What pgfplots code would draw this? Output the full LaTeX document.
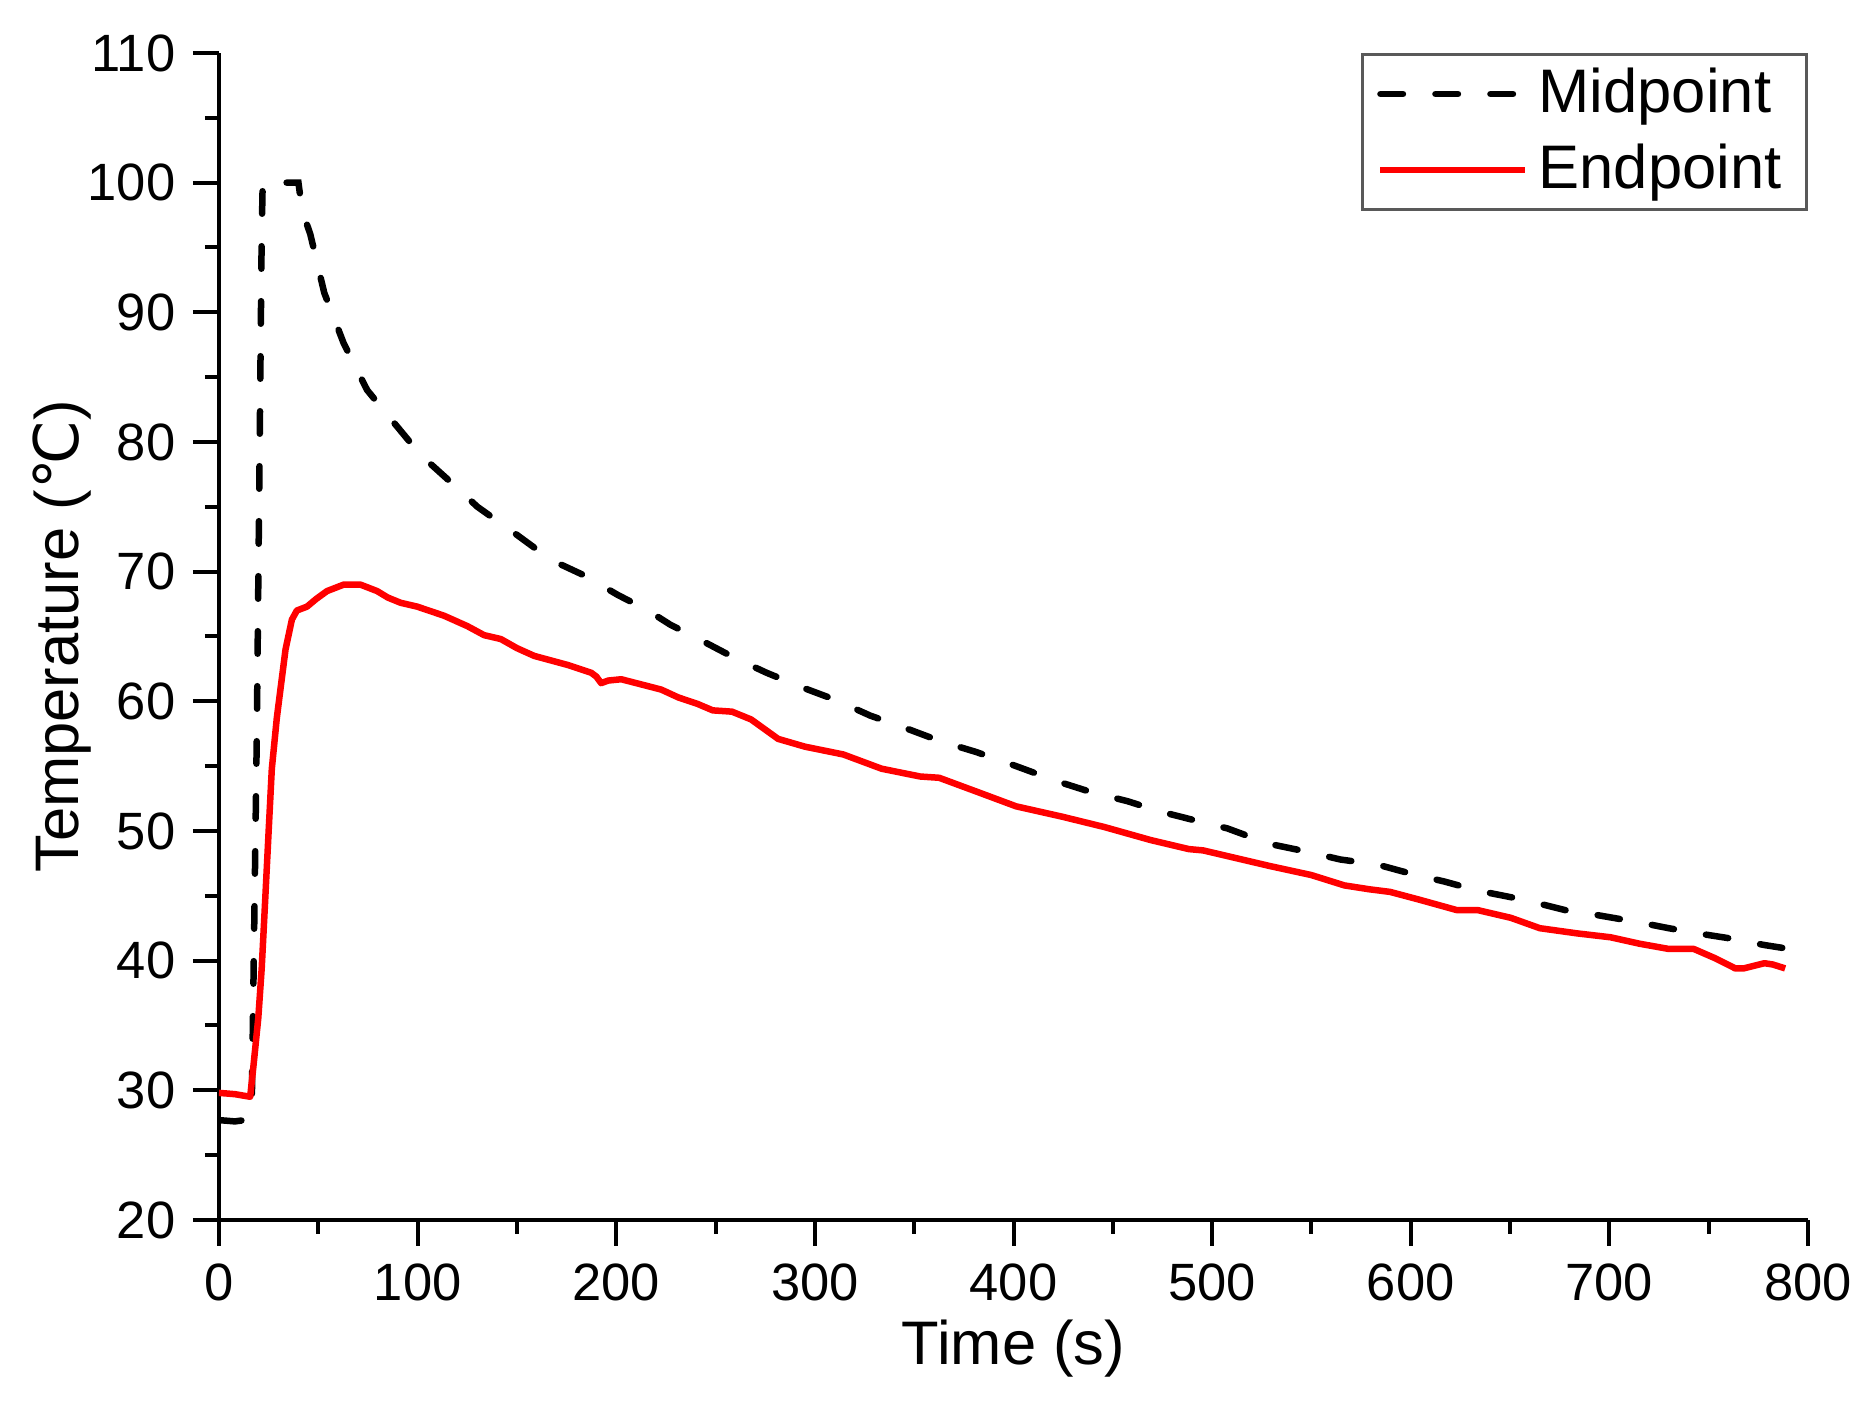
\documentclass[border=0pt]{standalone}
\usepackage{fontspec}
\setmainfont{Liberation Sans}
\newfontfamily\dejavu{DejaVu Sans}
\usepackage{pgfplots}
\pgfplotsset{compat=1.18}

\newcommand\tickfont{\fontsize{10.5}{12}\selectfont}
\newcommand\labfont{\fontsize{12.3}{14}\selectfont}

\begin{document}
\begin{tikzpicture}
\begin{axis}[
  scale only axis, width=317.8pt, height=233.4pt,
  xmin=0, xmax=800, ymin=20, ymax=110,
  xtick={0,100,...,800}, ytick={20,30,...,110},
  minor x tick num=1, minor y tick num=1,
  axis x line*=bottom, axis y line*=left,
  axis line style={-, line width=0.8pt},
  tick align=outside, major tick length=5.2pt, minor tick length=2.8pt,
  tick style={black, line width=0.8pt},
  /pgf/number format/assume math mode=true,
  tick label style={font=\tickfont},
  xlabel={Time (s)},
  ylabel={Temperature ({\dejavu ℃})},
  label style={font=\labfont},
  xlabel style={at={(axis description cs:0.5,-0.1243)}, anchor=base},
  ylabel style={at={(axis description cs:-0.0887,0.5)}, anchor=base, rotate=0},
  legend style={at={(rel axis cs:1,1)}, anchor=north east, draw=black!65,
    line width=0.6pt, font=\labfont, cells={anchor=west},
    nodes={inner ysep=1.2pt}, row sep=2.4pt, inner ysep=1.5pt},
  legend image code/.code={\draw[#1] (0pt,0pt) -- (29pt,0pt);},
]
\addplot[black, line width=1.3pt, line cap=round, dash pattern=on 4.5pt off 6.5pt] coordinates {
(0,27.7) (8,27.6) (13,27.7) (15.5,28.0) (16.5,28.8) (17.5,40) (19,57) (20.5,80) (21.5,96) (22,100)
(40,100) (41.8,97.9) (46,96.0) (53,91.5) (62.8,87.6) (74.6,84.0) (88,81.5) (101.5,79.0)
(116.7,76.9) (130.1,75.0) (150.3,72.8) (167.2,70.9) (184,69.7) (200.8,68.2) (216,67.0)
(227.3,65.9) (242.8,64.7) (260.2,63.3) (275.7,62.2) (293.1,61.1) (310.5,60.1) (327.8,58.9)
(346.2,57.9) (363.6,56.9) (381,56.1) (401.3,55.0) (422.6,53.8) (439,53.0) (457.3,52.3)
(473.8,51.5) (489.2,50.9) (507.6,50.2) (528.9,49.0) (547.8,48.4) (564.5,47.8) (583.4,47.4)
(600.2,46.7) (616.9,46.1) (633.7,45.4) (656.7,44.7) (677.6,43.9) (694.3,43.5) (713.2,43.0)
(729.9,42.5) (744.6,42.1) (761.3,41.7) (778.1,41.2) (790.6,40.9) (800,40.6)
};
\addlegendentry{Midpoint}
\addplot[red, line width=1.3pt, line join=round] coordinates {
(0,29.8) (8,29.7) (15.7,29.5) (17.3,31.8) (19.8,35.6) (21.5,39.4) (23.2,44.5) (24.9,49.7)
(26.6,54.8) (29.1,58.7) (31,61.0) (33.5,64) (36.7,66.3) (39.2,67.0) (44.3,67.3) (49,67.9)
(54.4,68.5) (62.8,69.0) (71.2,69.0) (79.6,68.5) (85,68.0) (91.4,67.6) (99.8,67.3) (113.3,66.6)
(125,65.8) (133.5,65.1) (141.9,64.8) (150,64.1) (158.7,63.5) (175.6,62.8) (187.4,62.2)
(190,61.9) (192.4,61.4) (196,61.6) (202.5,61.7) (217.7,61.1) (222.7,60.9) (231.2,60.3)
(240.9,59.8) (248.6,59.3) (258.3,59.2) (267.9,58.6) (281.5,57.1) (295,56.5) (314.3,55.9)
(333.6,54.8) (353,54.2) (362.6,54.1) (382,53.0) (401.3,51.9) (424.5,51.1) (445.8,50.3)
(469,49.3) (488.3,48.6) (495.5,48.5) (512.2,47.9) (528.9,47.3) (549.9,46.6) (566.6,45.8)
(579.2,45.5) (589.6,45.3) (604.3,44.7) (623.1,43.9) (633.6,43.9) (650.4,43.3) (665,42.5)
(683.8,42.1) (700.6,41.8) (715.3,41.3) (729.9,40.9) (742.5,40.9) (753,40.2) (763.4,39.4)
(767.6,39.4) (778.1,39.8) (782.3,39.7) (788.5,39.4)
};
\addlegendentry{Endpoint}
\end{axis}
\path (current axis.south west) ++(-43.8pt,-36.8pt) coordinate (bl);
\path (current axis.north east) ++(13.4pt,10.6pt) coordinate (tr);
\path (bl) rectangle (tr);
\end{tikzpicture}
\end{document}
